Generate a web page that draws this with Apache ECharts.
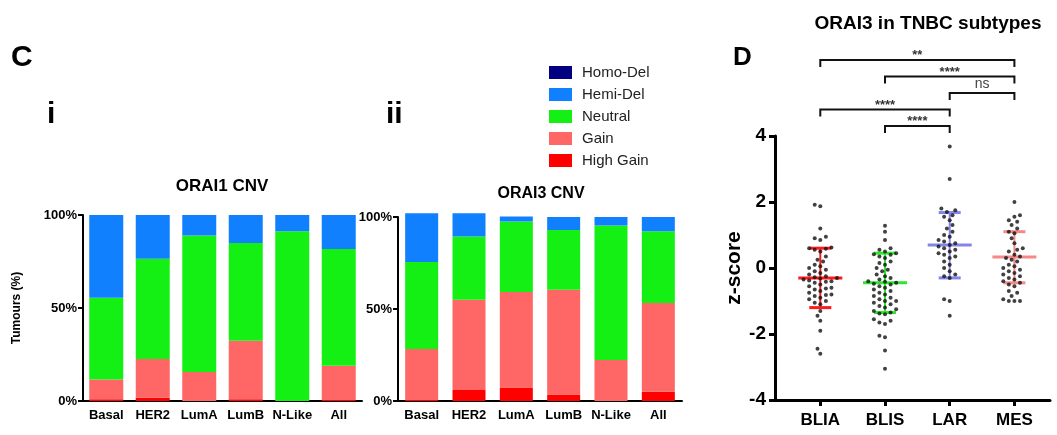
<!DOCTYPE html>
<html>
<head>
<meta charset="utf-8">
<script src="https://cdn.jsdelivr.net/npm/echarts@6/dist/echarts.min.js"></script>
<style>
html,body{margin:0;padding:0;background:#fff;}
#chart{width:1057px;height:435px;}
</style>
</head>
<body>
<div id="chart"></div>
<script>
// C: CNV categories (% of tumours)
const cnvCats = ['Basal', 'HER2', 'LumA', 'LumB', 'N-Like', 'All'];
const cnvLegend = ['Homo-Del', 'Hemi-Del', 'Neutral', 'Gain', 'High Gain'];

// ORAI1 CNV
const orai1HighGain = [1, 1.8, 0, 1, 0, 0.5];
const orai1Gain = [10.5, 20.8, 15.6, 31.4, 0, 18.5];
const orai1Neutral = [44, 53.9, 73.4, 52.6, 91.2, 62.7];
const orai1HemiDel = [44.5, 23.5, 11, 15, 8.8, 18.3];
const orai1HomoDel = [0, 0, 0, 0, 0, 0];

// ORAI3 CNV
const orai3HighGain = [0.5, 6, 7.4, 3.6, 0, 5];
const orai3Gain = [27.8, 49, 51.9, 56.8, 22.3, 48.3];
const orai3Neutral = [47.2, 34.4, 38.3, 32.6, 73.1, 38.9];
const orai3HemiDel = [26.5, 12.6, 2.7, 7, 4.6, 7.8];
const orai3HomoDel = [0, 0, 0, 0, 0, 0];

// D: ORAI3 z-score in TNBC subtypes
const tnbcGroups = ['BLIA', 'BLIS', 'LAR', 'MES'];
const bliaZ = [1.92, 1.87, 1.2, 0.95, 0.9, 0.85, 0.62, 0.6, 0.58, 0.55, 0.5, 0.35, 0.25, 0.2, 0.1, 0.05, 0.0,
  -0.05, -0.1, -0.15, -0.2, -0.25, -0.28, -0.3, -0.32, -0.35, -0.38, -0.4, -0.42, -0.45, -0.5, -0.55, -0.6,
  -0.62, -0.65, -0.7, -0.75, -0.8, -0.82, -0.85, -0.9, -0.95, -1.0, -1.05, -1.1, -1.3, -1.45, -1.6, -1.9, -2.45, -2.6];
const blisZ = [1.28, 1.1, 0.85, 0.6, 0.55, 0.5, 0.45, 0.42, 0.4, 0.35, 0.3, 0.2, 0.15, 0.1, 0.0, -0.05, -0.1,
  -0.2, -0.25, -0.3, -0.35, -0.4, -0.42, -0.45, -0.48, -0.5, -0.55, -0.6, -0.65, -0.7, -0.75, -0.8, -0.85,
  -0.9, -0.95, -1.0, -1.0, -1.05, -1.1, -1.15, -1.2, -1.25, -1.3, -1.35, -1.38, -1.4, -1.55, -1.6, -1.65,
  -1.7, -2.05, -2.1, -2.5, -3.05];
const larZ = [3.68, 2.7, 1.8, 1.75, 1.7, 1.6, 1.55, 1.45, 1.3, 1.2, 1.1, 1.0, 0.95, 0.85, 0.8, 0.75, 0.7,
  0.65, 0.6, 0.55, 0.5, 0.45, 0.4, 0.35, 0.3, 0.2, 0.1, 0.0, -0.1, -0.2, -0.25, -0.3, -0.95, -1.0, -1.45];
const mesZ = [2.0, 1.6, 1.55, 1.45, 1.4, 1.3, 1.2, 1.1, 1.05, 0.9, 0.75, 0.6, 0.55, 0.5, 0.4, 0.35, 0.3,
  0.25, 0.2, 0.1, 0.05, 0.0, -0.05, -0.1, -0.15, -0.2, -0.25, -0.3, -0.35, -0.4, -0.45, -0.5, -0.55,
  -0.7, -0.75, -0.85, -0.95, -1.0, -1.0, -1.0];
const groupMean = [-0.3, -0.45, 0.7, 0.33];
const groupSdLow = [-1.2, -1.35, -0.3, -0.45];
const groupSdHigh = [0.6, 0.45, 1.68, 1.1];
const groupColors = ['#ff1a1a', '#2ee62e', '#8484ec', '#f68888'];

// significance brackets: group pairs (1-based), label, stacking level
const sigPairs = [[1, 4], [2, 4], [3, 4], [1, 3], [2, 3]];
const sigLabels = ['**', '****', 'ns', '****', '****'];
const sigLevels = [4, 3, 2, 1, 0];

const FONT = 'Liberation Sans, Arial, sans-serif';
const cnvColors = {
  'Homo-Del': '#000080',
  'Hemi-Del': '#1180ff',
  'Neutral': '#14f014',
  'Gain': '#ff6666',
  'High Gain': '#ff0000'
};

// simple beeswarm: spread points sideways so dots don't overlap
function swarm(vals, center) {
  const pxY = 33, pxX = 65, minD = 5.6, step = 2.8;
  const sorted = vals.slice().sort((a, b) => a - b);
  const placed = [];
  const out = [];
  sorted.forEach(v => {
    const py = v * pxY;
    for (let k = 0; k < 40; k++) {
      const off = (k % 2 === 0 ? 1 : -1) * Math.ceil(k / 2) * step;
      let ok = true;
      for (const p of placed) {
        const dx = p[0] - off, dy = p[1] - py;
        if (dx * dx + dy * dy < minD * minD) { ok = false; break; }
      }
      if (ok) {
        placed.push([off, py]);
        out.push([center + off / pxX, v]);
        break;
      }
    }
  });
  return out;
}

function barSeries(name, data, idx) {
  return {
    name: name,
    type: 'bar',
    stack: 'cnv' + idx,
    xAxisIndex: idx,
    yAxisIndex: idx,
    data: data,
    barWidth: idx === 0 ? 34 : 33,
    clip: false,
    itemStyle: { color: cnvColors[name] },
    emphasis: { disabled: true }
  };
}

function cnvXAxis(idx) {
  return {
    type: 'category',
    gridIndex: idx,
    data: cnvCats,
    axisLine: { lineStyle: { color: '#000', width: 2 } },
    axisTick: { alignWithLabel: true, length: 5, lineStyle: { color: '#000', width: 2 } },
    axisLabel: { color: '#000', fontWeight: 'bold', fontSize: 13, fontFamily: FONT, margin: 8, interval: 0 }
  };
}

function cnvYAxis(idx, withName) {
  const ax = {
    type: 'value',
    gridIndex: idx,
    min: 0, max: 100, interval: 50,
    splitLine: { show: false },
    axisLine: { show: true, lineStyle: { color: '#000', width: 2 } },
    axisTick: { show: true, length: 5, lineStyle: { color: '#000', width: 2 } },
    axisLabel: { color: '#000', fontWeight: 'bold', fontSize: 13, fontFamily: FONT, margin: 6, formatter: '{value}%' }
  };
  if (withName) {
    ax.name = 'Tumours (%)';
    ax.nameLocation = 'middle';
    ax.nameGap = 60;
    ax.nameTextStyle = { color: '#000', fontWeight: 'bold', fontSize: 12, fontFamily: FONT };
  }
  return ax;
}

const dotData = [bliaZ, blisZ, larZ, mesZ].map((vals, i) => swarm(vals, i + 1));

let myChart = echarts.init(document.getElementById('chart'));
myChart.setOption({
  animation: false,
  backgroundColor: '#fff',
  textStyle: { fontFamily: FONT },
  graphic: [
    { type: 'text', x: 11, y: 43, style: { text: 'C', font: 'bold 30px ' + FONT, fill: '#000' } },
    { type: 'text', x: 47, y: 100, style: { text: 'i', font: 'bold 30px ' + FONT, fill: '#000' } },
    { type: 'text', x: 386, y: 100, style: { text: 'ii', font: 'bold 30px ' + FONT, fill: '#000' } },
    { type: 'text', x: 733, y: 45, style: { text: 'D', font: 'bold 26px ' + FONT, fill: '#000' } },
    { type: 'text', x: 222, y: 178, style: { text: 'ORAI1 CNV', font: 'bold 17px ' + FONT, fill: '#000', align: 'center' } },
    { type: 'text', x: 541, y: 186, style: { text: 'ORAI3 CNV', font: 'bold 16px ' + FONT, fill: '#000', align: 'center' } },
    { type: 'text', x: 928, y: 14, style: { text: 'ORAI3 in TNBC subtypes', font: 'bold 19px ' + FONT, fill: '#000', align: 'center' } }
  ],
  legend: {
    data: cnvLegend,
    orient: 'vertical',
    left: 549,
    top: 65,
    padding: 0,
    itemWidth: 23,
    itemHeight: 13,
    itemGap: 7,
    icon: 'rect',
    selectedMode: false,
    textStyle: { color: '#222', fontSize: 15, fontFamily: FONT, padding: [0, 0, 0, 5] }
  },
  grid: [
    { left: 83, top: 215, width: 279, height: 186 },
    { left: 398, top: 217, width: 284, height: 184 },
    { left: 775, top: 136, width: 275, height: 264 }
  ],
  xAxis: [
    cnvXAxis(0),
    cnvXAxis(1),
    {
      type: 'value',
      gridIndex: 2,
      min: 0.3, max: 4.55,
      splitLine: { show: false },
      axisLine: { onZero: false, lineStyle: { color: '#000', width: 3 } },
      axisTick: { customValues: [1, 2, 3, 4], length: 6, lineStyle: { color: '#000', width: 3 } },
      axisLabel: {
        customValues: [1, 2, 3, 4],
        formatter: v => tnbcGroups[Math.round(v) - 1],
        color: '#000', fontWeight: 'bold', fontSize: 17, fontFamily: FONT, margin: 12
      }
    }
  ],
  yAxis: [
    cnvYAxis(0, true),
    cnvYAxis(1, false),
    {
      type: 'value',
      gridIndex: 2,
      min: -4, max: 4, interval: 2,
      splitLine: { show: false },
      axisLine: { show: true, onZero: false, lineStyle: { color: '#000', width: 3 } },
      axisTick: { show: true, length: 6, lineStyle: { color: '#000', width: 3 } },
      axisLabel: { color: '#000', fontWeight: 'bold', fontSize: 19, fontFamily: FONT, margin: 9 },
      name: 'z-score',
      nameLocation: 'middle',
      nameGap: 30,
      nameTextStyle: { color: '#000', fontWeight: 'bold', fontSize: 21, fontFamily: FONT }
    }
  ],
  series: [
    barSeries('High Gain', orai1HighGain, 0),
    barSeries('Gain', orai1Gain, 0),
    barSeries('Neutral', orai1Neutral, 0),
    barSeries('Hemi-Del', orai1HemiDel, 0),
    barSeries('Homo-Del', orai1HomoDel, 0),
    barSeries('High Gain', orai3HighGain, 1),
    barSeries('Gain', orai3Gain, 1),
    barSeries('Neutral', orai3Neutral, 1),
    barSeries('Hemi-Del', orai3HemiDel, 1),
    barSeries('Homo-Del', orai3HomoDel, 1),
    {
      // mean +/- SD
      type: 'custom',
      xAxisIndex: 2,
      yAxisIndex: 2,
      z: 2,
      data: groupMean.map((m, i) => [i + 1, m, groupSdLow[i], groupSdHigh[i]]),
      renderItem: function (params, api) {
        const x = api.value(0);
        const pm = api.coord([x, api.value(1)]);
        const plo = api.coord([x, api.value(2)]);
        const phi = api.coord([x, api.value(3)]);
        const c = groupColors[params.dataIndex];
        return {
          type: 'group',
          children: [
            { type: 'line', shape: { x1: pm[0], y1: plo[1], x2: pm[0], y2: phi[1] }, style: { stroke: c, lineWidth: 2 } },
            { type: 'line', shape: { x1: pm[0] - 22, y1: pm[1], x2: pm[0] + 22, y2: pm[1] }, style: { stroke: c, lineWidth: 3 } },
            { type: 'line', shape: { x1: pm[0] - 11, y1: plo[1], x2: pm[0] + 11, y2: plo[1] }, style: { stroke: c, lineWidth: 3 } },
            { type: 'line', shape: { x1: pm[0] - 11, y1: phi[1], x2: pm[0] + 11, y2: phi[1] }, style: { stroke: c, lineWidth: 3 } }
          ]
        };
      }
    },
    ...dotData.map(d => ({
      type: 'scatter',
      xAxisIndex: 2,
      yAxisIndex: 2,
      z: 3,
      data: d,
      symbolSize: 4,
      itemStyle: { color: '#111' },
      emphasis: { disabled: true }
    })),
    {
      // significance brackets above the plot
      type: 'custom',
      xAxisIndex: 2,
      yAxisIndex: 2,
      clip: false,
      data: sigPairs.map((p, i) => [p[0], p[1], 4.3 + 0.5 * sigLevels[i]]),
      renderItem: function (params, api) {
        const a = api.coord([api.value(0), api.value(2)]);
        const b = api.coord([api.value(1), api.value(2)]);
        const lab = sigLabels[params.dataIndex];
        const isNs = lab === 'ns';
        return {
          type: 'group',
          children: [
            {
              type: 'polyline',
              shape: { points: [[a[0], a[1] + 7], [a[0], a[1]], [b[0], b[1]], [b[0], b[1] + 7]] },
              style: { stroke: '#111', lineWidth: 2, fill: 'none' }
            },
            {
              type: 'text',
              x: (a[0] + b[0]) / 2,
              y: a[1] - (isNs ? 2 : -2),
              style: {
                text: lab, align: 'center', verticalAlign: 'bottom',
                font: (isNs ? '14px ' : 'bold 13px ') + FONT, fill: isNs ? '#444' : '#333'
              }
            }
          ]
        };
      }
    }
  ]
});
</script>
</body>
</html>
